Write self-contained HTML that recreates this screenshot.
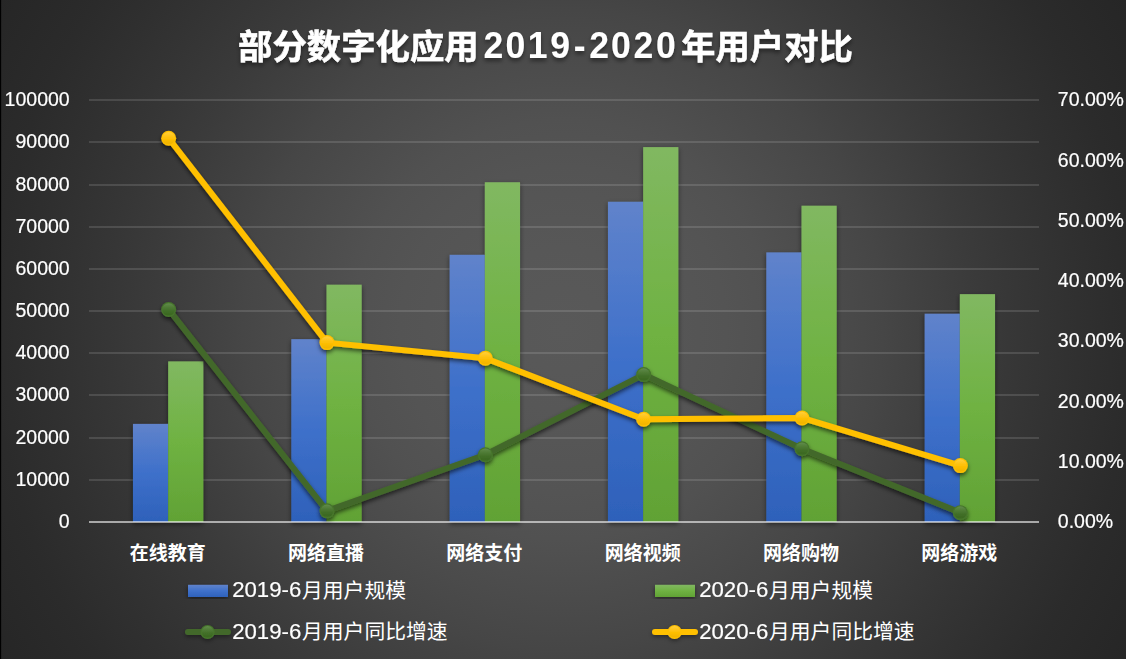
<!DOCTYPE html>
<html><head><meta charset="utf-8"><title>chart</title>
<style>
html,body{margin:0;padding:0;background:#262626;}
body{width:1126px;height:659px;overflow:hidden;font-family:"Liberation Sans","Noto Sans CJK SC",sans-serif;}
svg{display:block}
text{font-family:"Liberation Sans","Noto Sans CJK SC",sans-serif;fill:#fff}
.t text{stroke:#fff;stroke-width:.2px}
</style></head><body>
<svg width="1126" height="659" viewBox="0 0 1126 659">
<defs>
<radialGradient id="bg" gradientUnits="userSpaceOnUse" cx="563" cy="329.5" r="652.4"><stop offset="0.0000" stop-color="#595959"/><stop offset="0.1257" stop-color="#575757"/><stop offset="0.2498" stop-color="#545454"/><stop offset="0.3219" stop-color="#515151"/><stop offset="0.3832" stop-color="#4d4d4d"/><stop offset="0.4905" stop-color="#464646"/><stop offset="0.5135" stop-color="#444444"/><stop offset="0.6269" stop-color="#3b3b3b"/><stop offset="0.6974" stop-color="#363636"/><stop offset="0.7894" stop-color="#303030"/><stop offset="0.8737" stop-color="#2b2b2b"/><stop offset="0.9473" stop-color="#282828"/><stop offset="1.0000" stop-color="#262626"/></radialGradient>
<linearGradient id="gb" x1="0" y1="0" x2="0" y2="1"><stop offset="0" stop-color="#6083cb"/><stop offset=".5" stop-color="#3e70ca"/><stop offset="1" stop-color="#2e61ba"/></linearGradient>
<linearGradient id="gg" x1="0" y1="0" x2="0" y2="1"><stop offset="0" stop-color="#81b861"/><stop offset=".5" stop-color="#6fb242"/><stop offset="1" stop-color="#61a235"/></linearGradient>
<linearGradient id="my" x1="0" y1="0" x2="0" y2="1"><stop offset="0" stop-color="#ffcf3d"/><stop offset=".3" stop-color="#ffc51a"/><stop offset=".6" stop-color="#fcbd00"/><stop offset=".9" stop-color="#f2b500"/><stop offset="1" stop-color="#f8ba00"/></linearGradient>
<linearGradient id="mg" x1="0" y1="0" x2="0" y2="1"><stop offset="0" stop-color="#618c4c"/><stop offset=".3" stop-color="#507c37"/><stop offset=".6" stop-color="#426f29"/><stop offset=".9" stop-color="#3b6921"/><stop offset="1" stop-color="#437228"/></linearGradient>
<filter id="sb" x="-30%" y="-10%" width="160%" height="120%"><feDropShadow dx="0" dy="2" stdDeviation="2.5" flood-color="#000" flood-opacity=".5"/></filter>
<filter id="sl" x="-5%" y="-5%" width="110%" height="115%" filterUnits="userSpaceOnUse" ><feDropShadow dx="0" dy="2.5" stdDeviation="2" flood-color="#000" flood-opacity=".6"/></filter>
<filter id="sl2" x="-20%" y="-60%" width="140%" height="260%"><feDropShadow dx="0" dy="2" stdDeviation="2" flood-color="#000" flood-opacity=".4"/></filter>
<filter id="st" x="-5%" y="-30%" width="110%" height="170%"><feDropShadow dx="0" dy="3" stdDeviation="2.2" flood-color="#000" flood-opacity=".45"/></filter>
</defs>
<rect width="1126" height="659" fill="url(#bg)"/>
<rect x="0" y="0" width="1" height="659" fill="#000"/><rect x="1" y="0" width="1" height="659" fill="#000" opacity=".15"/>

<rect x="89.0" y="479" width="950.0" height="2" fill="#fff" fill-opacity=".125"/>
<rect x="89.0" y="437" width="950.0" height="2" fill="#fff" fill-opacity=".125"/>
<rect x="89.0" y="394" width="950.0" height="2" fill="#fff" fill-opacity=".125"/>
<rect x="89.0" y="352" width="950.0" height="2" fill="#fff" fill-opacity=".125"/>
<rect x="89.0" y="310" width="950.0" height="2" fill="#fff" fill-opacity=".125"/>
<rect x="89.0" y="268" width="950.0" height="2" fill="#fff" fill-opacity=".125"/>
<rect x="89.0" y="226" width="950.0" height="2" fill="#fff" fill-opacity=".125"/>
<rect x="89.0" y="184" width="950.0" height="2" fill="#fff" fill-opacity=".125"/>
<rect x="89.0" y="141" width="950.0" height="2" fill="#fff" fill-opacity=".125"/>
<rect x="89.0" y="99" width="950.0" height="2" fill="#fff" fill-opacity=".125"/>
<g filter="url(#sb)">
<rect x="132.98" y="423.89" width="35.19" height="98.11" fill="url(#gb)"/>
<rect x="168.17" y="361.36" width="35.19" height="160.64" fill="url(#gg)"/>
<rect x="291.31" y="339.15" width="35.19" height="182.85" fill="url(#gb)"/>
<rect x="326.50" y="284.67" width="35.19" height="237.33" fill="url(#gg)"/>
<rect x="449.65" y="254.81" width="35.19" height="267.19" fill="url(#gb)"/>
<rect x="484.83" y="182.23" width="35.19" height="339.77" fill="url(#gg)"/>
<rect x="607.98" y="201.75" width="35.19" height="320.25" fill="url(#gb)"/>
<rect x="643.17" y="147.11" width="35.19" height="374.89" fill="url(#gg)"/>
<rect x="766.31" y="252.37" width="35.19" height="269.63" fill="url(#gb)"/>
<rect x="801.50" y="205.70" width="35.19" height="316.30" fill="url(#gg)"/>
<rect x="924.65" y="313.68" width="35.19" height="208.32" fill="url(#gb)"/>
<rect x="959.83" y="294.14" width="35.19" height="227.86" fill="url(#gg)"/>
</g>
<rect x="89.0" y="521.0" width="950.0" height="2" fill="#fff" fill-opacity=".58"/>
<g filter="url(#sl)"><polyline points="168.67,309.46 327.00,510.84 485.33,454.77 643.67,374.58 802.00,448.74 960.33,512.65" fill="none" stroke="#43682b" stroke-width="6" stroke-linejoin="round" stroke-linecap="round"/>
<circle cx="168.67" cy="309.46" r="7.5" fill="#46752b"/><circle cx="168.67" cy="309.46" r="6.3" fill="url(#mg)"/>
<circle cx="327.00" cy="510.84" r="7.5" fill="#46752b"/><circle cx="327.00" cy="510.84" r="6.3" fill="url(#mg)"/>
<circle cx="485.33" cy="454.77" r="7.5" fill="#46752b"/><circle cx="485.33" cy="454.77" r="6.3" fill="url(#mg)"/>
<circle cx="643.67" cy="374.58" r="7.5" fill="#46752b"/><circle cx="643.67" cy="374.58" r="6.3" fill="url(#mg)"/>
<circle cx="802.00" cy="448.74" r="7.5" fill="#46752b"/><circle cx="802.00" cy="448.74" r="6.3" fill="url(#mg)"/>
<circle cx="960.33" cy="512.65" r="7.5" fill="#46752b"/><circle cx="960.33" cy="512.65" r="6.3" fill="url(#mg)"/>
</g>
<g filter="url(#sl)"><polyline points="168.67,138.22 327.00,342.62 485.33,358.30 643.67,419.19 802.00,417.99 960.33,465.62" fill="none" stroke="#ffc000" stroke-width="6" stroke-linejoin="round" stroke-linecap="round"/>
<circle cx="168.67" cy="138.22" r="7.5" fill="#ffc000"/><circle cx="168.67" cy="138.22" r="6.3" fill="url(#my)"/>
<circle cx="327.00" cy="342.62" r="7.5" fill="#ffc000"/><circle cx="327.00" cy="342.62" r="6.3" fill="url(#my)"/>
<circle cx="485.33" cy="358.30" r="7.5" fill="#ffc000"/><circle cx="485.33" cy="358.30" r="6.3" fill="url(#my)"/>
<circle cx="643.67" cy="419.19" r="7.5" fill="#ffc000"/><circle cx="643.67" cy="419.19" r="6.3" fill="url(#my)"/>
<circle cx="802.00" cy="417.99" r="7.5" fill="#ffc000"/><circle cx="802.00" cy="417.99" r="6.3" fill="url(#my)"/>
<circle cx="960.33" cy="465.62" r="7.5" fill="#ffc000"/><circle cx="960.33" cy="465.62" r="6.3" fill="url(#my)"/>
</g>
<g class="t" opacity=".999">
<text x="69.7" y="528" font-size="19.5" text-anchor="end">0</text>
<text x="69.7" y="486" font-size="19.5" text-anchor="end">10000</text>
<text x="69.7" y="444" font-size="19.5" text-anchor="end">20000</text>
<text x="69.7" y="401" font-size="19.5" text-anchor="end">30000</text>
<text x="69.7" y="359" font-size="19.5" text-anchor="end">40000</text>
<text x="69.7" y="317" font-size="19.5" text-anchor="end">50000</text>
<text x="69.7" y="275" font-size="19.5" text-anchor="end">60000</text>
<text x="69.7" y="233" font-size="19.5" text-anchor="end">70000</text>
<text x="69.7" y="191" font-size="19.5" text-anchor="end">80000</text>
<text x="69.7" y="148" font-size="19.5" text-anchor="end">90000</text>
<text x="69.7" y="106" font-size="19.5" text-anchor="end">100000</text>
<text x="1057.8" y="528.3" font-size="19.5">0.00%</text>
<text x="1057.8" y="468.0" font-size="19.5">10.00%</text>
<text x="1057.8" y="407.7" font-size="19.5">20.00%</text>
<text x="1057.8" y="347.4" font-size="19.5">30.00%</text>
<text x="1057.8" y="287.1" font-size="19.5">40.00%</text>
<text x="1057.8" y="226.8" font-size="19.5">50.00%</text>
<text x="1057.8" y="166.5" font-size="19.5">60.00%</text>
<text x="1057.8" y="106.2" font-size="19.5">70.00%</text>
</g>
<text x="167.7" y="559.5" font-size="19" font-weight="bold" text-anchor="middle">在线教育</text>
<text x="326" y="559.5" font-size="19" font-weight="bold" text-anchor="middle">网络直播</text>
<text x="484.3" y="559.5" font-size="19" font-weight="bold" text-anchor="middle">网络支付</text>
<text x="642.7" y="559.5" font-size="19" font-weight="bold" text-anchor="middle">网络视频</text>
<text x="801" y="559.5" font-size="19" font-weight="bold" text-anchor="middle">网络购物</text>
<text x="959.3" y="559.5" font-size="19" font-weight="bold" text-anchor="middle">网络游戏</text>
<g filter="url(#st)">
<text x="238" y="58.6" font-size="34.4" font-weight="bold" stroke="#fff" stroke-width=".5">部分数字化应用</text>
<text x="681" y="58.6" font-size="34.4" font-weight="bold" stroke="#fff" stroke-width=".5">年用户对比</text>
<g transform="translate(0,57.8) scale(1,1.06) translate(0,-57.8)">
<text x="483.49" y="57.8" font-size="35.6" font-weight="bold">2</text>
<text x="505.42" y="57.8" font-size="35.6" font-weight="bold">0</text>
<text x="527.63" y="57.8" font-size="35.6" font-weight="bold">1</text>
<text x="550.14" y="57.8" font-size="35.6" font-weight="bold">9</text>
<text x="573.64" y="57.8" font-size="35.6" font-weight="bold">-</text>
<text x="589.29" y="57.8" font-size="35.6" font-weight="bold">2</text>
<text x="611.12" y="57.8" font-size="35.6" font-weight="bold">0</text>
<text x="633.49" y="57.8" font-size="35.6" font-weight="bold">2</text>
<text x="656.02" y="57.8" font-size="35.6" font-weight="bold">0</text>
</g>
</g>
<rect x="188" y="584.8" width="40" height="12.2" fill="url(#gb)" filter="url(#sb)"/>
<rect x="655" y="584.8" width="40" height="12.2" fill="url(#gg)" filter="url(#sb)"/>
<g filter="url(#sl2)"><line x1="188" x2="228" y1="632" y2="632" stroke="#43682b" stroke-width="6" stroke-linecap="round"/><circle cx="207.60" cy="632.00" r="7.1" fill="#46752b"/><circle cx="207.60" cy="632.00" r="5.9" fill="url(#mg)"/></g>
<g filter="url(#sl2)"><line x1="655" x2="695" y1="632" y2="632" stroke="#ffc000" stroke-width="6" stroke-linecap="round"/><circle cx="674.60" cy="632.00" r="7.1" fill="#ffc000"/><circle cx="674.60" cy="632.00" r="5.9" fill="url(#my)"/></g>
<g class="t" opacity=".999">
<text x="232.2" y="596.9" font-size="22.2">2019-6</text>
<text x="699.2" y="596.9" font-size="22.2">2020-6</text>
<text x="232.2" y="638.5" font-size="22.2">2019-6</text>
<text x="699.2" y="638.5" font-size="22.2">2020-6</text>
</g>
<text x="302" y="597.5" font-size="20.8">月用户规模</text>
<text x="769" y="597.5" font-size="20.8">月用户规模</text>
<text x="302" y="639" font-size="20.8">月用户同比增速</text>
<text x="769" y="639" font-size="20.8">月用户同比增速</text>
</svg></body></html>
